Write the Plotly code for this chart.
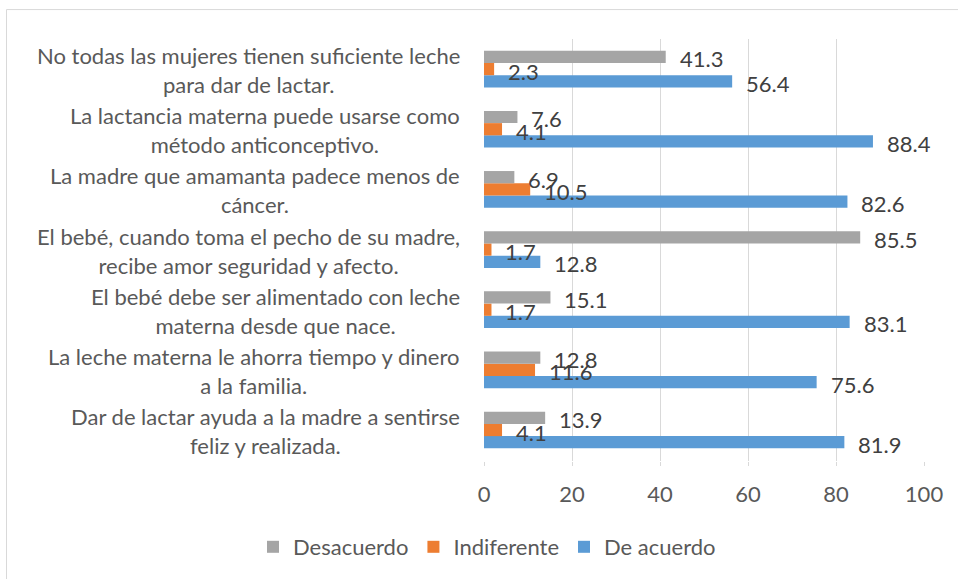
import plotly.graph_objects as go

# Categories, top to bottom as shown
categories = [
    "No todas las mujeres tienen suficiente leche<br>para dar de lactar.",
    "La lactancia materna puede usarse como<br>método anticonceptivo.",
    "La madre que amamanta padece menos de<br>cáncer.",
    "El bebé, cuando toma el pecho de su madre,<br>recibe amor seguridad y afecto.",
    "El bebé debe ser alimentado con leche<br>materna desde que nace.",
    "La leche materna le ahorra tiempo y dinero<br>a la familia.",
    "Dar de lactar ayuda a la madre a sentirse<br>feliz y realizada.",
]
desacuerdo = [41.3, 7.6, 6.9, 85.5, 15.1, 12.8, 13.9]
indiferente = [2.3, 4.1, 10.5, 1.7, 1.7, 11.6, 4.1]
de_acuerdo = [56.4, 88.4, 82.6, 12.8, 83.1, 75.6, 81.9]
x_ticks = [0, 20, 40, 60, 80, 100]

FONT = "Lato"
FS = 22
TXT = "#595959"
LBL = "#404040"

series = [
    ("De acuerdo", de_acuerdo, "#5B9BD5", -12.3),
    ("Indiferente", indiferente, "#ED7D31", 0),
    ("Desacuerdo", desacuerdo, "#A5A5A5", 12.3),
]

fig = go.Figure()
annotations = []
for name, vals, color, yoff in series:
    fig.add_trace(go.Bar(
        name=name, x=vals, y=categories, orientation="h",
        marker=dict(color=color, line=dict(width=0)),
    ))
    for c, v in zip(categories, vals):
        annotations.append(dict(
            x=v, y=c, xref="x", yref="y", text=f"{v:.1f}", showarrow=False,
            xanchor="left", yanchor="middle", xshift=12, yshift=yoff - 2,
            font=dict(family=FONT, size=FS, color=LBL),
        ))

for c in categories:
    annotations.append(dict(
        x=-0.05, y=c, xref="paper", yref="y", text=c, showarrow=False,
        xanchor="right", yanchor="middle", align="center", yshift=-1,
        font=dict(family=FONT, size=FS, color=TXT),
    ))

fig.update_layout(
    width=958, height=579,
    margin=dict(l=484, r=34, t=39, b=117),
    paper_bgcolor="white", plot_bgcolor="white",
    barmode="group", bargap=0.39, bargroupgap=0,
    font=dict(family=FONT, size=FS, color=TXT),
    annotations=annotations,
    showlegend=True,
    legend=dict(
        orientation="h", x=(253 - 484) / 440, xanchor="left",
        y=(462 - 547) / 423, yanchor="middle",
        traceorder="reversed", font=dict(family=FONT, size=FS, color=TXT),
        itemwidth=30,
    ),
    shapes=[dict(
        type="rect", xref="paper", yref="paper",
        x0=(6.5 - 484) / 440, x1=(1000 - 484) / 440,
        y0=(462 - 640) / 423, y1=(462 - 9.5) / 423,
        line=dict(color="#D9D9D9", width=1), fillcolor="rgba(0,0,0,0)", layer="below",
    )],
)
fig.update_xaxes(
    range=[0, 100], tickvals=x_ticks, showgrid=True, gridcolor="#D9D9D9", gridwidth=1,
    zeroline=False, showline=False, ticks="outside", ticklen=4, tickcolor="#D9D9D9",
    ticklabelstandoff=10, tickfont=dict(family=FONT, size=FS, color=TXT),
)
fig.update_yaxes(
    categoryorder="array", categoryarray=list(reversed(categories)),
    showticklabels=False, showgrid=False, zeroline=False, showline=False,
)

fig.write_html(
    "out.html",
    config={"displayModeBar": False},
    post_script="document.body.style.margin='0';document.body.style.overflow='hidden';",
)
